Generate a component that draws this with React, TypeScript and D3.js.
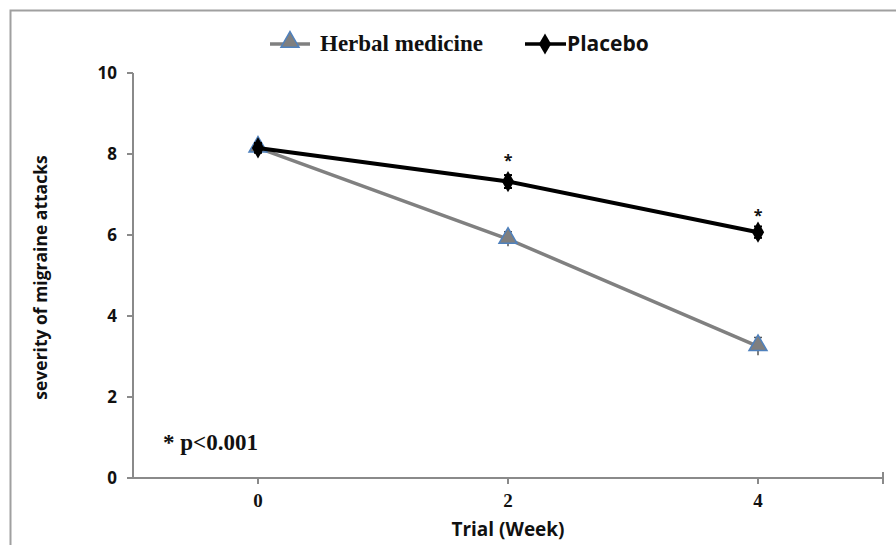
import React from 'react';
import * as d3 from 'd3';

const weeks = [0, 2, 4];
const herbal = [8.15, 5.9, 3.25];
const herbalErr = [0.12, 0.18, 0.22];
const placebo = [8.15, 7.32, 6.07];
const placeboErr = [0.12, 0.16, 0.14];
const starWeeks = [2, 4];
const starValues = [7.95, 6.6];
const yTicks = [0, 2, 4, 6, 8, 10];
const xTicks = [0, 2, 4];

const W = 896;
const H = 545;
const left = 133, right = 883, top = 73, bottom = 478;

function App() {
  const x = d3.scaleLinear().domain([-1, 5]).range([left, right]);
  const y = d3.scaleLinear().domain([0, 10]).range([bottom, top]);
  const line = d3.line<number>().x((_, i) => x(weeks[i])).y(d => y(d));
  const tri = d3.symbol(d3.symbolTriangle, 140)();
  const diamond = d3.symbol(d3.symbolDiamond, 130)();
  const sans = "'Open Sans', 'Liberation Sans', sans-serif";
  const serif = "'Liberation Serif', 'DejaVu Serif', serif";
  const axisColor = '#8a8a8a';

  return (
    <svg width={W} height={H} style={{ position: 'absolute', left: 0, top: 0, background: '#fff' }}>
      {/* frame */}
      <path d={`M10.5,${H} V10.5 H${W}`} fill="none" stroke="#a0a0a0" strokeWidth={2} />

      {/* legend */}
      <g>
        <line x1={270} x2={310} y1={44} y2={44} stroke="#808080" strokeWidth={3.5} />
        <path d={tri} transform="translate(290,42)" fill="#7f7f7f" stroke="#4f81bd" strokeWidth={1.5} />
        <text x={320} y={51} fontFamily={serif} fontWeight="bold" fontSize={23} fill="#111">Herbal medicine</text>
        <line x1={525} x2={566} y1={44} y2={44} stroke="#000" strokeWidth={3.5} />
        <path d={diamond} transform="translate(545,44)" fill="#000" />
        <text x={567} y={51} fontFamily={sans} fontWeight="bold" fontSize={21} fill="#111">Placebo</text>
      </g>

      {/* y axis */}
      <line x1={left} x2={left} y1={y(10)} y2={y(0)} stroke={axisColor} strokeWidth={2} />
      {yTicks.map(t => (
        <g key={t}>
          <line x1={left - 6} x2={left} y1={y(t)} y2={y(t)} stroke={axisColor} strokeWidth={2} />
          <text x={117} y={y(t) + 6} textAnchor="end" fontFamily={sans} fontWeight="bold" fontSize={17} fill="#111">{t}</text>
        </g>
      ))}
      <text transform={`translate(47,${(top + bottom) / 2 + 2}) rotate(-90)`} textAnchor="middle"
        fontFamily={sans} fontWeight="bold" fontSize={17.5} fill="#111">severity of migraine attacks</text>

      {/* x axis */}
      <line x1={left} x2={right} y1={bottom} y2={bottom} stroke={axisColor} strokeWidth={2} />
      {[...xTicks, 5].map(t => (
        <line key={t} x1={x(t)} x2={x(t)} y1={bottom - (t === 5 ? 6 : 0)} y2={bottom + 6} stroke={axisColor} strokeWidth={2} />
      ))}
      {xTicks.map(t => (
        <text key={t} x={x(t)} y={507} textAnchor="middle" fontFamily={serif} fontWeight="bold" fontSize={19} fill="#111">{t}</text>
      ))}
      <text x={x(2)} y={536} textAnchor="middle" fontFamily={sans} fontWeight="bold" fontSize={19} fill="#111">Trial (Week)</text>

      {/* herbal series */}
      <path d={line(herbal) || ''} fill="none" stroke="#808080" strokeWidth={3.5} />
      {herbal.map((v, i) => (
        <g key={i}>
          <line x1={x(weeks[i])} x2={x(weeks[i])} y1={y(v + herbalErr[i])} y2={y(v - herbalErr[i])} stroke="#555" strokeWidth={1.5} />
          <line x1={x(weeks[i]) - 4} x2={x(weeks[i]) + 4} y1={y(v + herbalErr[i])} y2={y(v + herbalErr[i])} stroke="#555" strokeWidth={1.5} />
          <path d={tri} transform={`translate(${x(weeks[i])},${y(v) - 1})`} fill="#7f7f7f" stroke="#4f81bd" strokeWidth={1.5} />
        </g>
      ))}

      {/* placebo series */}
      <path d={line(placebo) || ''} fill="none" stroke="#000" strokeWidth={4} />
      {placebo.map((v, i) => (
        <g key={i}>
          <line x1={x(weeks[i])} x2={x(weeks[i])} y1={y(v + placeboErr[i])} y2={y(v - placeboErr[i])} stroke="#000" strokeWidth={2} />
          <line x1={x(weeks[i]) - 4} x2={x(weeks[i]) + 4} y1={y(v + placeboErr[i])} y2={y(v + placeboErr[i])} stroke="#000" strokeWidth={2} />
          <line x1={x(weeks[i]) - 4} x2={x(weeks[i]) + 4} y1={y(v - placeboErr[i])} y2={y(v - placeboErr[i])} stroke="#000" strokeWidth={2} />
          <path d={diamond} transform={`translate(${x(weeks[i])},${y(v)})`} fill="#000" />
        </g>
      ))}

      {/* significance */}
      {starWeeks.map((w, i) => (
        <text key={w} x={x(w)} y={y(starValues[i]) + 10} textAnchor="middle" fontFamily={sans} fontWeight="bold" fontSize={16} fill="#111">*</text>
      ))}
      <text x={163} y={450} fontFamily={serif} fontWeight="bold" fontSize={23} fill="#111">* p&lt;0.001</text>
    </svg>
  );
}

export default App;
